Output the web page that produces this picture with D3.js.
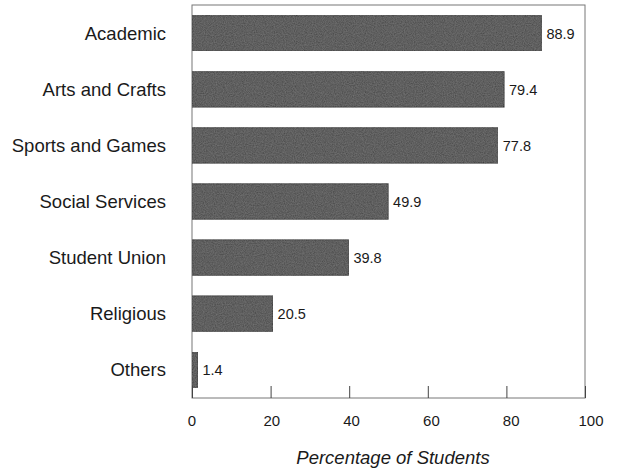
<!DOCTYPE html>
<html>
<head>
<meta charset="utf-8">
<script src="https://cdn.jsdelivr.net/npm/d3@7"></script>
<style>
  body { margin: 0; background: #fff; }
  text { font-family: "Liberation Sans", Arial, sans-serif; fill: #1a1a1a; }
</style>
</head>
<body>
<svg id="chart" width="619" height="471"></svg>
<script>
// data
const categories = ["Academic", "Arts and Crafts", "Sports and Games", "Social Services", "Student Union", "Religious", "Others"];
const values = [88.9, 79.4, 77.8, 49.9, 39.8, 20.5, 1.4];
const ticks = [0, 20, 40, 60, 80, 100];

const svg = d3.select("#chart");
const plotLeft = 192, plotRight = 585, plotTop = 5, plotBottom = 398;

let x = d3.scaleLinear().domain([0, 100]).range([plotLeft, plotRight]);
let y = d3.scaleBand().domain(categories).range([plotTop, plotBottom]).paddingInner(0.37).paddingOuter(0.19);

// grainy fill like the scanned print
const defs = svg.append("defs");
const f = defs.append("filter").attr("id", "grain").attr("x", 0).attr("y", 0).attr("width", 1).attr("height", 1);
f.append("feTurbulence").attr("type", "fractalNoise").attr("baseFrequency", 0.9).attr("numOctaves", 2).attr("seed", 3).attr("result", "n");
f.append("feColorMatrix").attr("in", "n").attr("type", "matrix")
  .attr("values", "0 0 0 0 0.45  0 0 0 0 0.45  0 0 0 0 0.45  0 0 0 0.3 0").attr("result", "g");
f.append("feComposite").attr("in", "g").attr("in2", "SourceGraphic").attr("operator", "in").attr("result", "gm");
const m = f.append("feMerge");
m.append("feMergeNode").attr("in", "SourceGraphic");
m.append("feMergeNode").attr("in", "gm");

// frame
svg.append("rect")
  .attr("x", plotLeft).attr("y", plotTop)
  .attr("width", plotRight - plotLeft).attr("height", plotBottom - plotTop)
  .attr("fill", "none").attr("stroke", "#777").attr("stroke-width", 1);

// bars
svg.append("g")
  .selectAll("rect")
  .data(categories)
  .join("rect")
  .attr("x", x(0))
  .attr("y", d => y(d))
  .attr("width", (d, i) => x(values[i]) - x(0))
  .attr("height", y.bandwidth())
  .attr("fill", "#444")
  .attr("stroke", "#222")
  .attr("stroke-width", 1)
  .attr("filter", "url(#grain)");

// value labels
svg.append("g")
  .selectAll("text")
  .data(categories)
  .join("text")
  .attr("x", (d, i) => x(values[i]) + 5)
  .attr("y", d => y(d) + y.bandwidth() / 2)
  .attr("dy", "0.36em")
  .style("font-size", "14.5px")
  .text((d, i) => values[i].toFixed(1));

// category labels
svg.append("g")
  .selectAll("text")
  .data(categories)
  .join("text")
  .attr("x", 166)
  .attr("y", d => y(d) + y.bandwidth() / 2)
  .attr("dy", "0.36em")
  .attr("text-anchor", "end")
  .style("font-size", "18.5px")
  .text(d => d);

// x axis: inward ticks on the bottom frame
const xAxis = svg.append("g")
  .attr("transform", `translate(0,${plotBottom})`)
  .call(d3.axisTop(x).tickValues(ticks).tickSize(12).tickFormat(""));
xAxis.select(".domain").remove();
xAxis.selectAll("line").attr("stroke", "#444");

svg.append("g")
  .selectAll("text")
  .data(ticks)
  .join("text")
  .attr("x", d => x(d) + d / 100 * 6)
  .attr("y", 426)
  .attr("text-anchor", "middle")
  .style("font-size", "15px")
  .text(d => d);

svg.append("text")
  .attr("x", 393)
  .attr("y", 464)
  .attr("text-anchor", "middle")
  .style("font-size", "18.5px")
  .style("font-style", "italic")
  .text("Percentage of Students");
</script>
</body>
</html>
